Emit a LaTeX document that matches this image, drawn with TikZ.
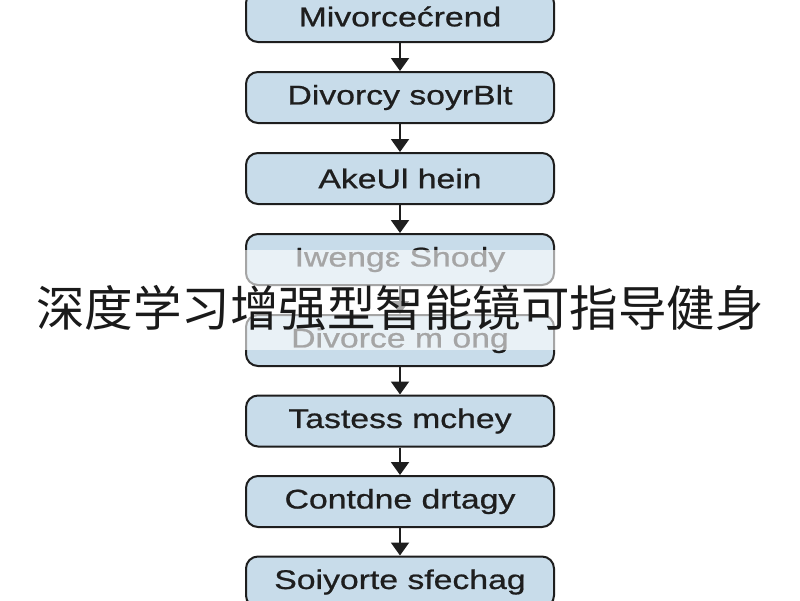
\documentclass[tikz,border=0pt]{standalone}
\usepackage{fontspec}
\setmainfont{Liberation Sans}
\newfontfamily\boxfont[FakeStretch=1.25,FakeBold=0.8]{Liberation Sans}
\newfontfamily\cjk{Noto Sans CJK SC}
\usetikzlibrary{arrows.meta}
\definecolor{boxfill}{HTML}{C8DCEA}
\definecolor{boxline}{HTML}{1E1E1E}
\definecolor{titlecol}{HTML}{1A1A1A}
\tikzset{
  flowbox/.style={draw=boxline, fill=boxfill, line width=2pt, rounded corners=12pt,
    minimum width=308pt, minimum height=51pt, inner sep=0pt,
    font=\boxfont\fontsize{27}{32}\selectfont, text=boxline},
  flowarrow/.style={draw=boxline, line width=2pt,
    -{Triangle[length=13pt,width=18pt]}},
  titletext/.style={font=\cjk\fontsize{48.5}{56}\selectfont, text=titlecol, inner sep=0pt},
}
\begin{document}
\begin{tikzpicture}[x=1pt,y=-1pt]
\useasboundingbox (0,0) rectangle (800,600);
\clip (0,0) rectangle (800,600);
\fill[white] (0,0) rectangle (800,600);
\node[flowbox] (b1) at (400,16.5) {Mivorcećrend};
\node[flowbox] (b2) at (400,97.5) {Divorcy soyrBlt};
\node[flowbox] (b3) at (400,178.5) {AkeUl hein};
\node[flowbox] (b4) at (400,259.5) {Iwengɛ Shody};
\node[flowbox] (b5) at (400,340.5) {Divorce m ong};
\node[flowbox] (b6) at (400,421) {Tastess mchey};
\node[flowbox] (b7) at (400,501.5) {Contdne drtagy};
\node[flowbox] (b8) at (400,582) {Soiyorte sfechag};
\draw[flowarrow] (b1.south) -- (b2.north);
\draw[flowarrow] (b2.south) -- (b3.north);
\draw[flowarrow] (b3.south) -- (b4.north);
\draw[flowarrow] (b4.south) -- (b5.north);
\draw[flowarrow] (b5.south) -- (b6.north);
\draw[flowarrow] (b6.south) -- (b7.north);
\draw[flowarrow] (b7.south) -- (b8.north);
\fill[white, opacity=0.6] (0,250) rectangle (800,350);
\node[titletext] (title) at (400,308) {深度学习增强型智能镜可指导健身};
\end{tikzpicture}
\end{document}
